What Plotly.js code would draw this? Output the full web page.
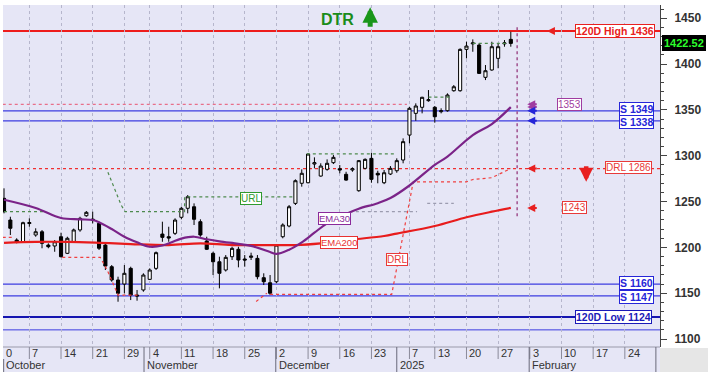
<!DOCTYPE html>
<html><head><meta charset="utf-8">
<script src="https://cdn.plot.ly/plotly-3.0.1.min.js"></script>
<style>html,body{margin:0;padding:0;background:#fff;}#chart{width:708px;height:381px;}</style>
</head><body><div id="chart"></div>
<script>
// ---- candles (one per trading day, Sep 30 -> late Jan) ----
const openP  = [1253.5,1229.8,1208,1206.1,1226,1213.5,1217,1202.5,1201.5,1211.6,1193.5,1206.1,1219,1234.5,1230.8,1226.2,1202.5,1178.9,1164.4,1160,1177.1,1148,1153.5,1165.1,1177.1,1214.5,1211.6,1215.3,1232.8,1242.6,1244.3,1228,1206.9,1193.5,1184.3,1175.3,1189.8,1197.9,1187.3,1189.1,1188,1166.9,1161.4,1162.5,1211.6,1223.3,1248,1269.9,1270.5,1290.9,1277.8,1285.1,1292.4,1285.8,1279.7,1284.4,1261.8,1286.2,1297.1,1280.8,1270.5,1280,1283.6,1295.3,1322.5,1346.2,1352.8,1360,1352.8,1348,1349.1,1370.9,1370.9,1416,1422,1420.7,1385.5,1393.5,1406.2,1422,1426.9];
const highP  = [1264.4,1233.4,1209.9,1228,1231.7,1220.8,1218.9,1204.4,1208,1216,1211.6,1220.5,1233.4,1239.6,1238.9,1228,1204.4,1180.7,1168,1180.7,1178.9,1153.5,1171.7,1177.1,1195.5,1228,1222.5,1231.7,1244.3,1257.1,1248,1230.6,1211.6,1195.2,1189.8,1191.6,1200.7,1200.7,1191.6,1194.2,1191.6,1171.7,1169.8,1203.6,1226.2,1246.2,1274.2,1285.1,1302.5,1298.2,1291.7,1296,1300.7,1289.8,1282.5,1287.3,1295.3,1297.1,1303.2,1283.6,1284.4,1288.7,1297.1,1318.9,1353.4,1357.1,1364.3,1371.6,1354.2,1351.7,1368,1377.1,1417.1,1424.3,1426.9,1422.6,1398.9,1424.3,1422.6,1426.2,1435.2];
const lowP   = [1237.1,1213.5,1204.4,1205,1222.5,1211.6,1199,1199,1195.2,1189.1,1192.7,1204.8,1217,1233.4,1226.2,1197.1,1175.3,1162.5,1140.7,1149.9,1142.5,1141.8,1151.6,1164.4,1175.3,1206.1,1206.1,1213.5,1230.6,1237.1,1224.4,1211.6,1197.1,1169.8,1155.3,1173.6,1186.2,1178.2,1178.9,1186.2,1165.1,1158.9,1148,1160.8,1209.9,1221.9,1246.2,1266.2,1269.9,1286.2,1277.1,1283.6,1290.9,1280.8,1272.7,1282.5,1260.7,1285.1,1270.5,1269.9,1269,1278.9,1281.4,1291.7,1313.5,1338.1,1346.2,1358.9,1336,1346.2,1348,1369.8,1369.8,1406.2,1413.4,1389.1,1382.5,1392.7,1395.4,1418.9,1418.9];
const closeP = [1238.9,1220.8,1205.8,1226.9,1227,1217,1204.4,1200.7,1206.1,1189.8,1209.9,1219,1231.7,1238.2,1229.8,1199,1179.6,1164.4,1149.9,1171.7,1148,1147,1169.8,1175.3,1194.2,1210.9,1210.2,1229.8,1242.6,1255.2,1230.6,1213.5,1197.9,1184.3,1171.7,1189.1,1198.9,1186.2,1186.2,1190.5,1168,1162.5,1149.9,1202.5,1224.4,1244.3,1272.7,1280.8,1301.8,1292.4,1288.7,1291.7,1298.2,1284.4,1273.4,1285.8,1294.6,1296,1274.2,1279,1281.4,1286.2,1294.6,1315.3,1351.7,1354.2,1363.7,1361,1342.5,1349,1366.2,1375.2,1416,1419.6,1423,1389.8,1392.7,1418.9,1418.9,1423,1422.52];

// ---- moving averages (read at sample bars) ----
const ema30Idx = [0,5,9,12,14,15,17,19,21,23,25,28,30,32,34,37,39,42,43,45,47,49,51,54,56,59,61,64,68,70,74,77,80];
const ema30Val = [1252,1243,1232,1230.6,1229.8,1227.5,1220,1211.5,1205.5,1200.7,1202,1209.5,1211.6,1208.8,1206.5,1203.8,1201.6,1195,1192.8,1197.5,1205.5,1216,1226.2,1236.5,1242.2,1248.2,1253.8,1267.5,1290,1299,1322.5,1334.5,1353];
const ema200Idx = [0,5,10,15,20,26,31,36,43,46,50,55,60,62,68,73,77,80];
const ema200Val = [1205,1206,1206,1205,1203.6,1202.5,1204.4,1202.5,1202.5,1202.5,1204.4,1208.5,1212.4,1215,1223.3,1232.8,1238.9,1243];

// ---- stepped resistance / support lines ----
const urlIdx = [0,6.5,null,16.4,17.5,18.5,19.1,28.5,28.5,45.6,null,47.8,62,null,67,70.5,null,74,79.5];
const urlVal = [1239,1239,null,1282,1262,1246,1239,1239,1255,1255,null,1302,1302,null,1364,1364,null,1422.6,1422.6];
const drlIdx = [-0.2,1.5,null,9.2,15.2,16.3,18,21.5,null,39.8,41.5,null,42,61.2,64.6,73,74,77,80];
const drlVal = [1211,1211,null,1189,1189,1175,1148,1148,null,1141,1150,null,1148.7,1148.7,1271.5,1271.5,1274,1276,1286];
const dimIdx = [54.6,65.2,null,66.8,71];
const dimVal = [1239,1239,null,1248,1248];
const pinkIdx = [-0.2,63.6];
const pinkVal = [1356,1356];

// ---- levels and labels ----
const highLevel = 1436, lowLevel = 1124, drlLevel = 1286;
const supportLevels = [1349,1338,1160,1147];
const extraLevel = 1110;
const ema30Last = 1353, ema200Last = 1243, lastPrice = 1422.52;
const currentBar = 81;

const weekTickIdx = [4,9,14,19,23,28,33,38,43,48,53,58,64,68,73,78,83,88,93,98];
const weekTickText = ['7','14','21','29','4','11','18','25','2','9','16','23','7','13','20','27','3','10','17','24'];
const monthIdx = [22.1,42.9,62,82.9];
const monthText = ['November','December','2025','February'];
const firstDayText = '0', firstMonthText = 'October';

// ---- layout geometry ----
const W = 708, H = 381, ML = 3, MR = 48, MT = 5, MB = 34;
const PH = H - MT - MB;
const yp = py => 1 - (py - MT) / PH;
const XMIN = -0.16, XMAX = 103.55, YMIN = 1091.3, YMAX = 1464.4;
const FONT = 'Liberation Sans, Arial, sans-serif';
const BG = '#e6e6f6';

const xs = openP.map((_, i) => i);
const traces = [
  {type:'scatter', mode:'lines', x:pinkIdx, y:pinkVal, line:{color:'#e8708a', width:1.2, dash:'dot'}, hoverinfo:'skip'},
  {type:'scatter', mode:'lines', x:dimIdx, y:dimVal, line:{color:'#9c9cb0', width:1.2, dash:'dot'}, hoverinfo:'skip'},
  {type:'scatter', mode:'lines', x:urlIdx, y:urlVal, line:{color:'#4e8a4e', width:1.2, dash:'dot'}, connectgaps:false, hoverinfo:'skip'},
  {type:'scatter', mode:'lines', x:drlIdx, y:drlVal, line:{color:'#f04040', width:1.2, dash:'dot'}, connectgaps:false, hoverinfo:'skip'},
  {type:'candlestick', x:xs, open:openP, high:highP, low:lowP, close:closeP,
    increasing:{line:{color:'#000', width:1}, fillcolor:'#ffffff'},
    decreasing:{line:{color:'#000', width:1}, fillcolor:'#000000'},
    whiskerwidth:0, hoverinfo:'skip'},
  {type:'scatter', mode:'lines', x:ema200Idx, y:ema200Val, line:{color:'#e81c1c', width:2.2, shape:'spline'}, hoverinfo:'skip'},
  {type:'scatter', mode:'lines', x:ema30Idx, y:ema30Val, line:{color:'#7b2388', width:2.2, shape:'spline'}, hoverinfo:'skip'}
];

const shapes = [];
// bottom date rows background
shapes.push({type:'rect', xref:'paper', yref:'paper', x0:0, x1:1, y0:0, y1:yp(372), fillcolor:BG, line:{width:0}, layer:'below'});
shapes.push({type:'rect', xref:'paper', yref:'paper', x0:1, x1:1+MR/(W-ML-MR), y0:yp(348), y1:yp(372), fillcolor:'#e6e6e6', line:{width:0}, layer:'below'});
shapes.push({type:'line', xref:'paper', yref:'paper', x0:0, x1:1, y0:0, y1:0, line:{color:'#9a9aaa', width:1}});
weekTickIdx.forEach(v => shapes.push({type:'line', xref:'x', yref:'paper', x0:v, x1:v, y0:0, y1:yp(359), line:{color:'#8a8a9a', width:1}}));
monthIdx.concat([102.9]).forEach(v => shapes.push({type:'line', xref:'x', yref:'paper', x0:v, x1:v, y0:0, y1:yp(372), line:{color:'#6a6a7a', width:1}}));
shapes.push({type:'line', xref:'paper', yref:'paper', x0:0.001, x1:0.001, y0:yp(359), y1:yp(372), line:{color:'#6a6a7a', width:1}});
// horizontal levels
const hline = (v, color, width, dash) => shapes.push({type:'line', xref:'paper', yref:'y', x0:0, x1:1, y0:v, y1:v, line:{color, width, dash:dash||'solid'}, layer:'below'});
hline(drlLevel, '#f03030', 1.2, 'dot');
supportLevels.forEach(v => hline(v, '#3c3ce0', 1.3));
hline(extraLevel, '#3c3ce0', 1);
hline(lowLevel, '#1515b0', 2);
hline(highLevel, '#ee1c1c', 2);
// current bar marker
shapes.push({type:'line', xref:'x', yref:'y', x0:currentBar, x1:currentBar, y0:1234, y1:1441, line:{color:'#a0508e', width:1.5, dash:'dot'}});

const ann = [];
const small = {family:FONT, size:11, color:'#333'};
weekTickIdx.forEach((v, i) => ann.push({x:v, y:yp(353), xref:'x', yref:'paper', text:weekTickText[i], showarrow:false, xanchor:'left', yanchor:'middle', xshift:1, font:small}));
ann.push({x:XMIN, y:yp(353), xref:'x', yref:'paper', text:firstDayText, showarrow:false, xanchor:'left', yanchor:'middle', xshift:1, font:small});
monthIdx.forEach((v, i) => ann.push({x:v, y:yp(365), xref:'x', yref:'paper', text:monthText[i], showarrow:false, xanchor:'left', yanchor:'middle', xshift:1, font:small}));
ann.push({x:XMIN, y:yp(365), xref:'x', yref:'paper', text:firstMonthText, showarrow:false, xanchor:'left', yanchor:'middle', xshift:1, font:small});

const box = (x, y, text, color, opts) => ann.push(Object.assign({x, y, xref:'x', yref:'y', text, showarrow:false,
  font:{family:FONT, size:10, color, weight:'normal'}, bgcolor:'#ffffff', bordercolor:color, borderwidth:1, borderpad:0,
  xanchor:'center', yanchor:'middle'}, opts||{}));
const bold = c => ({family:FONT, size:10.5, color:c, weight:'bold'});
box(102.76, highLevel, '120D High ' + highLevel, '#e82020', {xanchor:'right', font:bold('#e82020')});
box(102.6, 1350.6, 'S ' + supportLevels[0], '#2626d8', {xanchor:'right', font:bold('#2626d8')});
box(102.6, 1336.4, 'S ' + supportLevels[1], '#2626d8', {xanchor:'right', font:bold('#2626d8')});
box(102.6, 1161, 'S ' + supportLevels[2], '#2626d8', {xanchor:'right', font:bold('#2626d8')});
box(102.6, 1145.5, 'S ' + supportLevels[3], '#2626d8', {xanchor:'right', font:bold('#2626d8')});
box(102.3, lowLevel, '120D Low ' + lowLevel, '#1a1ab8', {xanchor:'right', font:bold('#1a1ab8')});
box(102.3, drlLevel + 1, 'DRL ' + drlLevel, '#e83a3a', {xanchor:'right'});
box(89.2, 1356, String(ema30Last), '#a03ca0');
box(90.1, ema200Last, String(ema200Last), '#e83a3a');
box(39, 1253, 'URL', '#2f9a2f');
box(52.1, 1232, 'EMA30', '#8a2a9a', {font:{family:FONT, size:9.5, color:'#8a2a9a'}});
box(52.9, 1205.3, 'EMA200', '#e83030', {font:{family:FONT, size:9.5, color:'#e83030'}});
box(62, 1187.3, 'DRL', '#e83a3a');
// last price tag
ann.push({x:1, y:lastPrice, xref:'paper', yref:'y', text:lastPrice.toFixed(2), showarrow:false, xanchor:'left', yanchor:'middle', xshift:2,
  bgcolor:'#000', bordercolor:'#000', borderpad:1, font:{family:FONT, size:11, color:'#2cff2c', weight:'bold'}});
// DTR
ann.push({x:52.6, y:1449, xref:'x', yref:'y', text:'DTR', showarrow:false, font:{family:FONT, size:16, color:'#1a8c1a', weight:'bold'}});
ann.push({x:57.8, y:1462, xref:'x', yref:'y', text:'', showarrow:true, ax:0, ay:21, arrowhead:2, arrowsize:0.62, arrowwidth:5, arrowcolor:'#1a961a'});
// small arrows at right
const arr = (x, y, c) => ann.push({x, y, xref:'x', yref:'y', text:'', showarrow:true, ax:11, ay:0, arrowhead:2, arrowsize:0.8, arrowwidth:2, arrowcolor:c});
arr(85.7, highLevel, '#e82020');
arr(82.6, 1356, '#a03ca0');
arr(82.6, ema30Last, '#a03ca0');
arr(82.6, supportLevels[0], '#2626d8');
arr(82.6, supportLevels[1], '#2626d8');
arr(82.6, drlLevel, '#e82020');
arr(82.6, ema200Last, '#e82020');
ann.push({x:91.9, y:1271.5, xref:'x', yref:'y', text:'', showarrow:true, ax:0, ay:-17, arrowhead:2, arrowsize:0.62, arrowwidth:4.5, arrowcolor:'#e82020'});

const layout = {
  width:W, height:H, margin:{l:ML, r:MR, t:MT, b:MB, pad:0},
  paper_bgcolor:'#ffffff', plot_bgcolor:BG, showlegend:false, dragmode:false,
  font:{family:FONT},
  xaxis:{range:[XMIN, XMAX], tickvals:weekTickIdx, showticklabels:false, ticks:'', showgrid:true,
    gridcolor:'#b6b6cc', griddash:'dot', gridwidth:1, zeroline:false, showline:false, rangeslider:{visible:false}, fixedrange:true},
  yaxis:{range:[YMIN, YMAX], side:'right', tick0:1100, dtick:50, ticks:'outside', ticklen:6, tickcolor:'#444',
    showline:true, linecolor:'#444', linewidth:1, showgrid:false, zeroline:false, ticklabelstandoff:5,
    minor:{dtick:10, ticks:'outside', ticklen:3, tickcolor:'#444', showgrid:false},
    tickfont:{family:FONT, size:12, color:'#333', weight:'bold'}, fixedrange:true},
  shapes, annotations:ann
};
Plotly.newPlot('chart', traces, layout, {staticPlot:true, displayModeBar:false});
</script></body></html>
